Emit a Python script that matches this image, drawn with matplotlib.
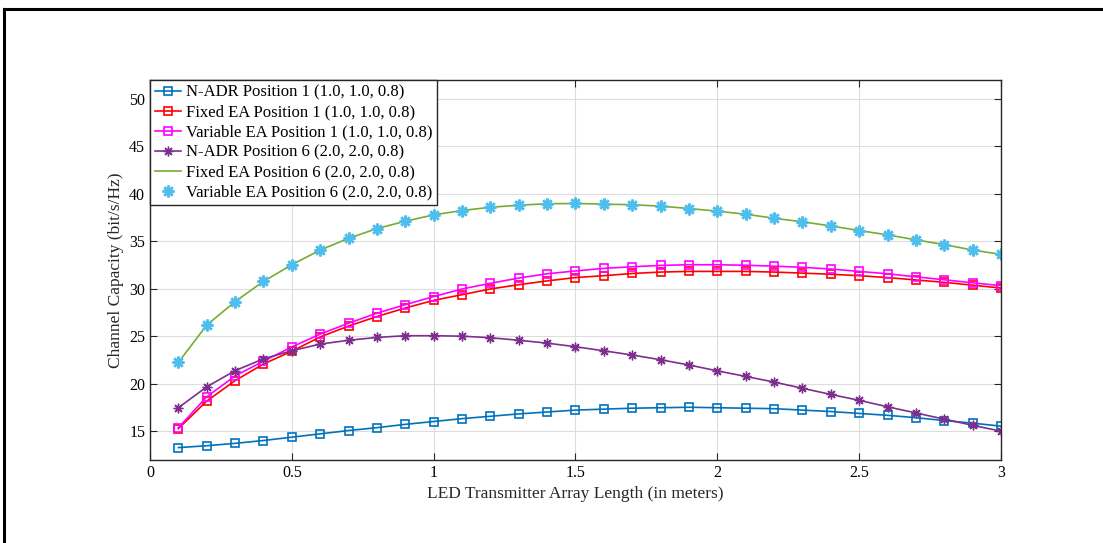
import numpy as np
import matplotlib.pyplot as plt
from matplotlib.lines import Line2D

plt.rcParams['font.family'] = ['Liberation Serif', 'DejaVu Serif']

x = np.round(np.arange(1, 31) * 0.1, 1)

nadr_p1 = [13.3, 13.5, 13.75, 14.05, 14.4, 14.75, 15.1, 15.4, 15.75, 16.05,
           16.35, 16.6, 16.85, 17.05, 17.25, 17.35, 17.45, 17.5, 17.55, 17.5,
           17.45, 17.4, 17.25, 17.1, 16.9, 16.7, 16.45, 16.15, 15.88, 15.56]
fixed_p1 = [15.3, 18.2, 20.35, 22.1, 23.45, 24.95, 26.1, 27.1, 28.0, 28.8,
            29.4, 30.0, 30.45, 30.85, 31.2, 31.4, 31.63, 31.78, 31.85, 31.85,
            31.85, 31.78, 31.67, 31.55, 31.4, 31.2, 30.95, 30.7, 30.4, 30.1]
var_p1 = [15.4, 18.65, 20.85, 22.4, 23.9, 25.25, 26.4, 27.45, 28.35, 29.2,
          30.0, 30.6, 31.15, 31.6, 31.9, 32.17, 32.34, 32.48, 32.55, 32.55,
          32.5, 32.4, 32.28, 32.1, 31.85, 31.6, 31.28, 30.97, 30.65, 30.35]
nadr_p6 = [17.5, 19.7, 21.4, 22.65, 23.5, 24.2, 24.6, 24.9, 25.08, 25.08,
           25.03, 24.87, 24.6, 24.3, 23.92, 23.49, 23.05, 22.55, 22.0, 21.38,
           20.8, 20.2, 19.55, 18.9, 18.28, 17.6, 16.95, 16.3, 15.65, 15.03]
fixed_p6 = [22.27, 26.2, 28.67, 30.8, 32.55, 34.1, 35.33, 36.36, 37.13, 37.8,
            38.26, 38.6, 38.82, 38.97, 39.0, 38.93, 38.87, 38.72, 38.47, 38.19,
            37.87, 37.45, 37.07, 36.64, 36.15, 35.7, 35.17, 34.67, 34.1, 33.64]
var_p6 = fixed_p6

labels = ['N-ADR Position 1 (1.0, 1.0, 0.8)',
          'Fixed EA Position 1 (1.0, 1.0, 0.8)',
          'Variable EA Position 1 (1.0, 1.0, 0.8)',
          'N-ADR Position 6 (2.0, 2.0, 0.8)',
          'Fixed EA Position 6 (2.0, 2.0, 0.8)',
          'Variable EA Position 6 (2.0, 2.0, 0.8)']

asterisk = (8, 2, 0)

fig = plt.figure(figsize=(11.03, 5.43), dpi=100)
ax = fig.add_axes([0.136, 0.1529, 0.7715, 0.6998])

ax.plot(x, nadr_p1, '-s', color='#0072BD', lw=1.2, ms=6, mfc='none', mew=1.2, label=labels[0])
ax.plot(x, fixed_p1, '-s', color='#FF0000', lw=1.2, ms=6, mfc='none', mew=1.2, label=labels[1])
ax.plot(x, var_p1, '-s', color='#FF00FF', lw=1.2, ms=6, mfc='none', mew=1.2, label=labels[2])
ax.plot(x, nadr_p6, '-', marker=asterisk, color='#7E2F8E', lw=1.2, ms=7, mew=1.0, label=labels[3])
ax.plot(x, fixed_p6, '-', color='#77AC30', lw=1.2, label=labels[4])
ax.plot(x, var_p6, ls='none', marker=asterisk, color='#4DBEEE', ms=8.5, mew=1.8, label=labels[5])

ax.set_xlim(0, 3)
ax.set_ylim(12, 52)
ax.set_xticks([0, 0.5, 1, 1.5, 2, 2.5, 3])
ax.set_xticklabels(['0', '0.5', '1', '1.5', '2', '2.5', '3'])
ax.set_yticks([15, 20, 25, 30, 35, 40, 45, 50])
ax.grid(True, color='#DDDDDD', lw=0.8)
ax.set_axisbelow(True)
ax.tick_params(direction='in', top=True, right=True, labelsize=11.5, length=5, color='#262626')
for s in ax.spines.values():
    s.set_color('#262626')
    s.set_linewidth(1.0)

ax.set_xlabel('LED Transmitter Array Length (in meters)', fontsize=12.5, color='#262626')
ax.set_ylabel('Channel Capacity (bit/s/Hz)', fontsize=12.5, color='#262626')

leg = ax.legend(loc='upper left', fontsize=12, handlelength=1.6, handletextpad=0.25,
                borderaxespad=0, borderpad=0.28, labelspacing=0.24, fancybox=False,
                framealpha=1, edgecolor='#262626')
leg.get_frame().set_linewidth(1.0)

# outer frame (top and left edges)
fig.add_artist(Line2D([0.004, 0.004], [0, 0.984], transform=fig.transFigure, color='black', lw=2.2))
fig.add_artist(Line2D([0.004, 1.0], [0.984, 0.984], transform=fig.transFigure, color='black', lw=2.2))

fig.savefig('out.png', dpi=100)
